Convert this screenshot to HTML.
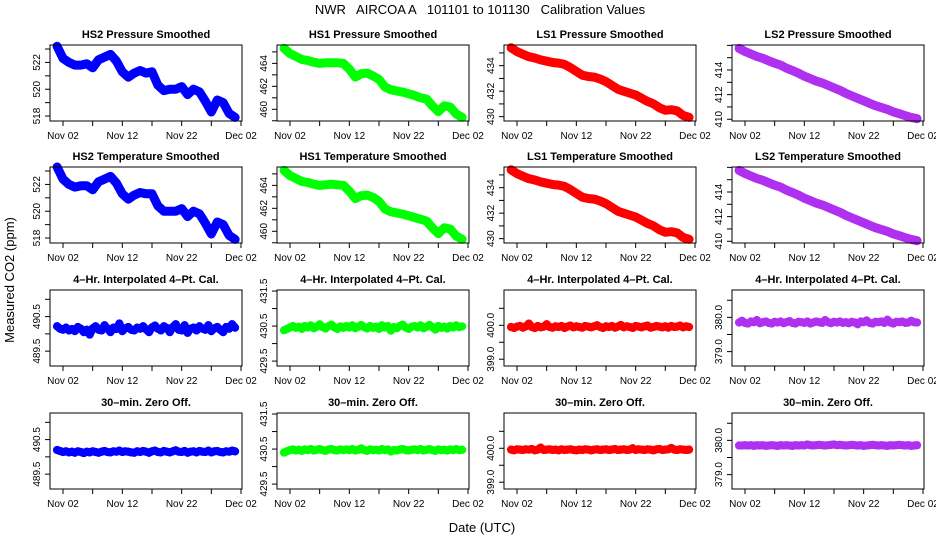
<!DOCTYPE html>
<html><head><meta charset="utf-8">
<style>
html,body{margin:0;padding:0;background:#fff;}
svg{display:block;font-family:"Liberation Sans",Arial,sans-serif;}
</style></head>
<body>
<svg id="chart" width="936" height="540" viewBox="0 0 936 540">
<text x="480" y="14" text-anchor="middle" font-size="13" xml:space="preserve">NWR   AIRCOA A   101101 to 101130   Calibration Values</text>
<text transform="translate(14,280) rotate(-90)" text-anchor="middle" font-size="13">Measured CO2 (ppm)</text>
<text x="482" y="532" text-anchor="middle" font-size="13">Date (UTC)</text>
</svg>
<script>
// x tick data (day of November; 32 = Dec 02)
const xTickDays = [2, 7, 12, 17, 22, 27, 32];
const xLabelDays = [2, 12, 22, 32];
const xLabels = ["Nov 02", "Nov 12", "Nov 22", "Dec 02"];

// smoothed series, daily values Nov 1 .. Dec 1
const hs2Pressure = [523.2,522.3,522.0,521.8,521.8,521.9,521.6,522.2,522.4,522.6,522.1,521.3,520.9,521.2,521.4,521.2,521.3,520.3,519.9,520.0,520.0,520.2,519.6,520.0,519.8,519.1,518.3,519.2,519.0,518.2,517.9];
const hs2Temperature = [523.3,522.4,522.0,521.8,521.9,521.9,521.6,522.2,522.4,522.6,522.1,521.3,520.9,521.2,521.4,521.3,521.3,520.4,520.0,520.0,520.0,520.2,519.6,520.0,519.8,519.1,518.3,519.2,519.0,518.2,517.9];
const hs1Pressure = [465.3,464.85,464.6,464.35,464.25,464.1,464.0,464.05,464.05,464.05,464.0,463.5,462.8,463.1,463.15,462.9,462.6,461.95,461.7,461.6,461.5,461.35,461.2,461.0,460.9,460.3,459.8,460.3,460.2,459.6,459.3];
const hs1Temperature = [465.3,464.85,464.6,464.35,464.25,464.1,464.0,464.05,464.1,464.05,464.0,463.5,462.85,463.1,463.15,462.95,462.6,461.95,461.7,461.6,461.5,461.35,461.2,461.05,460.9,460.3,459.8,460.3,460.2,459.6,459.3];
const ls1Pressure = [435.4,435.1,434.9,434.7,434.6,434.45,434.35,434.25,434.2,434.1,433.85,433.55,433.25,433.15,433.1,432.95,432.75,432.45,432.15,432.0,431.85,431.7,431.45,431.2,431.0,430.7,430.5,430.55,430.45,430.1,429.95];
const ls1Temperature = [435.4,435.1,434.9,434.7,434.6,434.45,434.35,434.25,434.2,434.1,433.85,433.55,433.25,433.15,433.1,432.95,432.75,432.45,432.15,432.0,431.85,431.7,431.45,431.2,431.0,430.7,430.5,430.55,430.45,430.1,429.95];
const ls2Pressure = [415.75,415.5,415.3,415.1,414.95,414.75,414.55,414.4,414.15,413.95,413.75,413.5,413.3,413.1,412.95,412.75,412.55,412.35,412.1,411.9,411.7,411.5,411.3,411.1,410.95,410.8,410.6,410.45,410.3,410.15,410.05];
const ls2Temperature = [415.75,415.5,415.3,415.1,414.95,414.75,414.55,414.4,414.15,413.95,413.75,413.5,413.3,413.1,412.95,412.75,412.55,412.35,412.1,411.9,411.7,411.5,411.3,411.1,410.95,410.8,410.6,410.45,410.3,410.15,410.05];

// noisy calibration series, half-daily values
const hs2Cal4 = [490.22,490.15,490.12,490.18,490.1,490.14,490.08,490.2,490.15,490.05,490.12,489.98,490.16,490.22,490.12,490.1,490.25,490.15,490.05,490.18,490.14,490.3,490.08,490.16,490.2,490.12,490.1,490.18,490.15,490.22,490.13,490.05,490.19,490.24,490.15,490.1,490.22,490.17,490.05,490.2,490.28,490.12,490.1,490.25,490.03,490.15,490.18,490.1,490.22,490.15,490.12,490.25,490.08,490.16,490.2,490.12,490.05,490.2,490.15,490.28,490.18];
const hs2Zero = [490.2,490.17,490.14,490.16,490.13,490.15,490.12,490.16,490.14,490.11,490.15,490.13,490.16,490.14,490.12,490.15,490.17,490.14,490.13,490.16,490.15,490.18,490.14,490.16,490.15,490.13,490.12,490.16,490.14,490.17,490.15,490.12,490.16,490.18,490.14,490.13,490.17,490.15,490.13,490.16,490.19,490.15,490.14,490.17,490.12,490.15,490.16,490.13,490.17,490.15,490.14,490.18,490.13,490.16,490.17,490.14,490.13,490.16,490.15,490.18,490.16];
const hs1Cal4 = [430.38,430.42,430.46,430.5,430.45,430.48,430.42,430.5,430.46,430.52,430.44,430.48,430.55,430.47,430.43,430.5,430.54,430.46,430.42,430.49,430.45,430.5,430.46,430.52,430.44,430.48,430.53,430.47,430.43,430.5,430.45,430.48,430.42,430.52,430.46,430.5,430.37,430.47,430.44,430.5,430.54,430.46,430.42,430.48,430.5,430.46,430.52,430.44,430.48,430.53,430.47,430.4,430.5,430.45,430.48,430.43,430.5,430.46,430.52,430.47,430.49];
const hs1Zero = [430.4,430.44,430.47,430.49,430.46,430.48,430.45,430.49,430.47,430.5,430.46,430.48,430.5,430.47,430.45,430.49,430.5,430.47,430.46,430.49,430.47,430.49,430.47,430.5,430.46,430.48,430.52,430.47,430.45,430.49,430.47,430.48,430.46,430.5,430.47,430.49,430.43,430.47,430.46,430.49,430.5,430.47,430.46,430.48,430.49,430.47,430.5,430.46,430.48,430.5,430.47,430.45,430.49,430.47,430.48,430.46,430.49,430.47,430.5,430.47,430.48];
const ls1Cal4 = [399.95,399.92,399.96,399.98,399.93,399.97,400.05,399.95,399.92,399.98,399.94,399.96,400.03,399.95,399.93,399.97,399.95,399.98,399.92,399.96,399.99,399.94,399.97,399.95,399.93,399.98,399.96,399.94,399.97,400.0,399.95,399.92,399.97,399.95,399.98,399.93,399.96,400.01,399.94,399.97,399.95,399.92,399.98,399.96,399.94,399.97,399.99,399.93,399.95,399.98,399.96,399.94,399.97,399.93,399.98,399.95,399.96,399.99,399.94,399.97,399.95];
const ls1Zero = [399.96,399.94,399.97,399.96,399.95,399.97,399.96,399.98,399.94,399.96,400.02,399.95,399.96,399.97,399.95,399.96,399.94,399.97,399.95,399.96,399.97,399.95,399.94,399.96,399.95,399.97,399.96,399.94,399.96,399.97,399.95,399.96,399.97,399.95,399.96,399.98,399.95,399.96,399.97,399.95,399.96,400.0,399.95,399.97,399.96,399.95,399.97,399.96,399.94,399.97,399.98,399.95,399.96,399.97,400.01,399.96,399.95,399.97,399.96,399.95,399.96];
const ls2Cal4 = [379.85,379.9,379.84,379.82,379.88,379.86,379.92,379.83,379.86,379.88,379.84,379.82,379.87,379.85,379.88,379.83,379.86,379.89,379.84,379.82,379.87,379.86,379.84,379.88,379.82,379.85,379.88,379.86,379.84,379.92,379.86,379.83,379.87,379.85,379.88,379.84,379.86,379.83,379.87,379.85,379.8,379.88,379.86,379.91,379.84,379.82,379.87,379.86,379.88,379.84,379.93,379.85,379.82,379.87,379.86,379.88,379.84,379.85,379.9,379.86,379.85];
const ls2Zero = [379.85,379.85,379.86,379.85,379.86,379.84,379.86,379.85,379.86,379.84,379.85,379.86,379.85,379.84,379.86,379.85,379.86,379.85,379.84,379.86,379.85,379.86,379.85,379.88,379.86,379.85,379.86,379.87,379.86,379.85,379.86,379.87,379.88,379.86,379.87,379.86,379.85,379.86,379.87,379.86,379.85,379.86,379.84,379.85,379.86,379.87,379.86,379.85,379.86,379.85,379.84,379.86,379.85,379.86,379.87,379.86,379.85,379.86,379.84,379.85,379.86];

const NS = "http://www.w3.org/2000/svg";
const svg = document.getElementById("chart");
const colX = [50, 277, 504, 732];
const rowY = [45, 167, 290, 413];
const W = 192, H = 76;
const dayMin = -0.19, dayMax = 32.17;

const panels = [
 {r:0,c:0,title:"HS2 Pressure Smoothed",data:hs2Pressure,col:"#0000ff",y0:517.63,y1:523.3,ticks:[518,519,520,521,522,523],labels:[518,520,522],dec:0,sm:true},
 {r:0,c:1,title:"HS1  Pressure Smoothed",data:hs1Pressure,col:"#00ff00",y0:458.98,y1:465.6,ticks:[459,460,461,462,463,464,465],labels:[460,462,464],dec:0,sm:true},
 {r:0,c:2,title:"LS1  Pressure Smoothed",data:ls1Pressure,col:"#ff0000",y0:429.66,y1:435.62,ticks:[430,431,432,433,434,435],labels:[430,432,434],dec:0,sm:true},
 {r:0,c:3,title:"LS2  Pressure Smoothed",data:ls2Pressure,col:"#b030f0",y0:409.86,y1:416.03,ticks:[410,411,412,413,414,415,416],labels:[410,412,414],dec:0,sm:true},
 {r:1,c:0,title:"HS2 Temperature Smoothed",data:hs2Temperature,col:"#0000ff",y0:517.63,y1:523.3,ticks:[518,519,520,521,522,523],labels:[518,520,522],dec:0,sm:true},
 {r:1,c:1,title:"HS1 Temperature Smoothed",data:hs1Temperature,col:"#00ff00",y0:458.98,y1:465.6,ticks:[459,460,461,462,463,464,465],labels:[460,462,464],dec:0,sm:true},
 {r:1,c:2,title:"LS1 Temperature Smoothed",data:ls1Temperature,col:"#ff0000",y0:429.66,y1:435.62,ticks:[430,431,432,433,434,435],labels:[430,432,434],dec:0,sm:true},
 {r:1,c:3,title:"LS2 Temperature Smoothed",data:ls2Temperature,col:"#b030f0",y0:409.86,y1:416.03,ticks:[410,411,412,413,414,415,416],labels:[410,412,414],dec:0,sm:true},
 {r:2,c:0,title:"4\u2013Hr. Interpolated 4\u2013Pt. Cal.",data:hs2Cal4,col:"#0000ff",y0:489.07,y1:491.27,ticks:[489.5,490,490.5,491],labels:[489.5,490.5],dec:1},
 {r:2,c:1,title:"4\u2013Hr. Interpolated 4\u2013Pt. Cal.",data:hs1Cal4,col:"#00ff00",y0:429.36,y1:431.53,ticks:[429.5,430,430.5,431,431.5],labels:[429.5,430.5,431.5],dec:1},
 {r:2,c:2,title:"4\u2013Hr. Interpolated 4\u2013Pt. Cal.",data:ls1Cal4,col:"#ff0000",y0:398.8,y1:401.04,ticks:[399,399.5,400,400.5],labels:[399,400],dec:1},
 {r:2,c:3,title:"4\u2013Hr. Interpolated 4\u2013Pt. Cal.",data:ls2Cal4,col:"#b030f0",y0:378.58,y1:380.8,ticks:[379,379.5,380,380.5],labels:[379,380],dec:1},
 {r:3,c:0,title:"30\u2013min. Zero Off.",data:hs2Zero,col:"#0000ff",y0:489.07,y1:491.27,ticks:[489.5,490,490.5,491],labels:[489.5,490.5],dec:1},
 {r:3,c:1,title:"30\u2013min. Zero Off.",data:hs1Zero,col:"#00ff00",y0:429.36,y1:431.53,ticks:[429.5,430,430.5,431,431.5],labels:[429.5,430.5,431.5],dec:1},
 {r:3,c:2,title:"30\u2013min. Zero Off.",data:ls1Zero,col:"#ff0000",y0:398.8,y1:401.04,ticks:[399,399.5,400,400.5],labels:[399,400],dec:1},
 {r:3,c:3,title:"30\u2013min. Zero Off.",data:ls2Zero,col:"#b030f0",y0:378.58,y1:380.8,ticks:[379,379.5,380,380.5],labels:[379,380],dec:1}
];

function mk(tag, attrs, parent){
  const e = document.createElementNS(NS, tag);
  for (const k in attrs) e.setAttribute(k, attrs[k]);
  (parent||svg).appendChild(e);
  return e;
}

panels.forEach((p, idx) => {
  const x0 = colX[p.c], y0 = rowY[p.r];
  const xs = d => x0 + (d - dayMin) / (dayMax - dayMin) * W;
  const ys = v => y0 + H - (v - p.y0) / (p.y1 - p.y0) * H;
  const g = mk("g", {});
  
  

  const t = mk("text", {x: x0 + W/2, y: y0 - 7, "text-anchor":"middle", "font-size":"11", "font-weight":"bold"}, g);
  t.textContent = p.title;
  
  

  const n = p.data.length;
  const step = 30 / (n - 1);
  const pts = p.data.map((v, i) => xs(1 + i*step).toFixed(1) + "," + ys(v).toFixed(1)).join(" ");
  const band = mk("polyline", {points: pts, fill:"none", stroke:p.col, "stroke-width": p.sm ? 9 : 8, "stroke-linejoin":"round", "stroke-linecap":"round"}, g);
  
  
  p.data.forEach((v, i) => {
    const c = mk("circle", {cx: xs(1 + i*step), cy: ys(v), r: 3.2, fill:"none", stroke:p.col, "stroke-width":1.8}, g);
    
    
  });

  const box = mk("rect", {x:x0, y:y0, width:W, height:H, fill:"none", stroke:"#000", "stroke-width":1}, g);
  
  

  xTickDays.forEach(d => {
    const tk = mk("line", {x1:xs(d), x2:xs(d), y1:y0+H, y2:y0+H+5, stroke:"#000"}, g);
    
    
  });
  xLabelDays.forEach((d, i) => {
    const tl = mk("text", {x:xs(d), y:y0+H+18, "text-anchor":"middle", "font-size":"10"}, g);
    tl.textContent = xLabels[i];
    
    
  });
  p.ticks.forEach(v => {
    const yy = ys(v);
    if (yy < y0 - 0.5 || yy > y0 + H + 0.5) return;
    const tk = mk("line", {x1:x0-5, x2:x0, y1:yy, y2:yy, stroke:"#000"}, g);
    
    
  });
  p.labels.forEach(v => {
    const yy = ys(v);
    const tl = mk("text", {transform:"translate(" + (x0-10) + "," + yy + ") rotate(-90)", "text-anchor":"middle", "font-size":"10"}, g);
    tl.textContent = v.toFixed(p.dec);
    
    
  });
});
</script>
</body></html>
